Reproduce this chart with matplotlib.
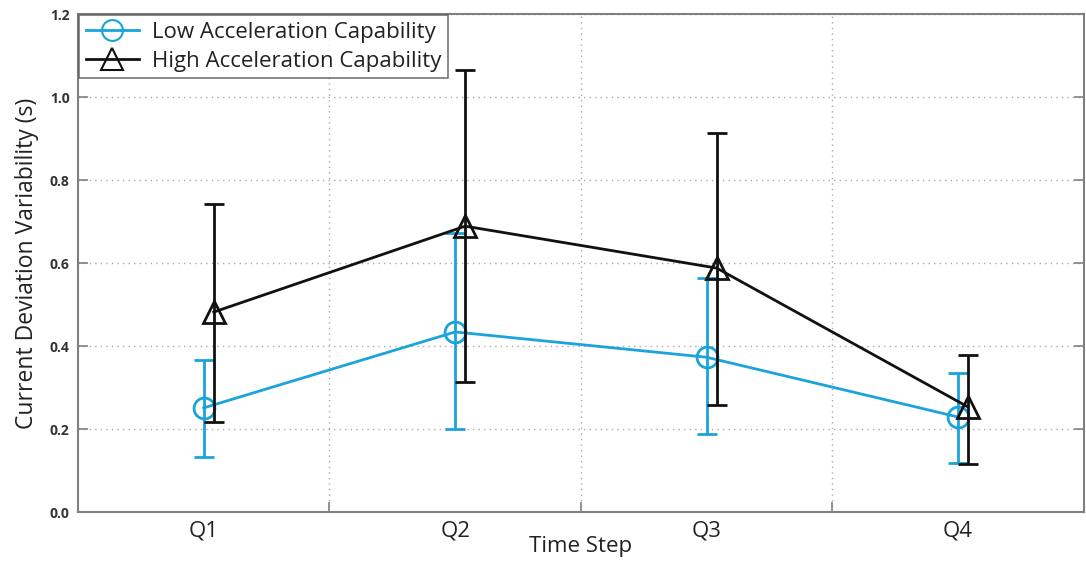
import matplotlib
matplotlib.use("Agg")
import matplotlib.pyplot as plt
from matplotlib.lines import Line2D
import numpy as np

categories = ["Q1", "Q2", "Q3", "Q4"]
low_mean = [0.251, 0.434, 0.373, 0.229]
low_err_lo = [0.133, 0.200, 0.188, 0.118]
low_err_hi = [0.366, 0.672, 0.563, 0.335]
high_mean = [0.482, 0.689, 0.588, 0.253]
high_err_lo = [0.217, 0.313, 0.258, 0.116]
high_err_hi = [0.742, 1.065, 0.913, 0.378]
yticks = [0.0, 0.2, 0.4, 0.6, 0.8, 1.0, 1.2]

plt.rcParams['font.family'] = ['Open Sans', 'DejaVu Sans']

blue = "#1ba3db"
fig = plt.figure(figsize=(10.86, 5.67), dpi=100)
ax = fig.add_axes([0.0718, 0.097, 0.9262, 0.878])

x = np.arange(1, len(categories) + 1)
off = 0.04
lm = np.array(low_mean); hm = np.array(high_mean)
low_yerr = [lm - np.array(low_err_lo), np.array(low_err_hi) - lm]
high_yerr = [hm - np.array(high_err_lo), np.array(high_err_hi) - hm]

ax.errorbar(x, lm, yerr=low_yerr, color=blue, lw=2, elinewidth=2, capsize=7, capthick=2,
            marker='o', markersize=15, markerfacecolor='none', markeredgewidth=2, zorder=3)
ax.errorbar(x + off, hm, yerr=high_yerr, color='#111111', lw=2, elinewidth=2, capsize=7, capthick=2,
            marker='^', markersize=16, markerfacecolor='none', markeredgewidth=2, zorder=4)

ax.set_xlim(0.5, 4.5)
ax.set_ylim(0, 1.2)
ax.set_xticks(x)
ax.set_xticklabels(categories, fontsize=16)
ax.set_xticks([1.5, 2.5, 3.5], minor=True)
ax.tick_params(axis='x', which='major', length=0, pad=6, colors='#222222')
ax.tick_params(axis='x', which='minor', direction='in', length=7, width=1.2, color='#808080')
ax.set_yticks(yticks)
ax.set_yticklabels([f"{v:.1f}" for v in yticks], fontsize=10, fontweight='bold')
ax.tick_params(axis='y', direction='in', length=7, width=1.2, color='#808080',
               right=True, labelcolor='#333333', pad=6)

ax.grid(True, axis='y', which='major', linestyle=(0, (1, 3)), color='#aaaaaa', lw=1)
ax.grid(True, axis='x', which='minor', linestyle=(0, (1, 3)), color='#aaaaaa', lw=1)

for s in ax.spines.values():
    s.set_color('#808080')
    s.set_linewidth(1.5)

ax.set_xlabel("Time Step", fontsize=16, labelpad=-4, color='#222222')
ax.set_ylabel("Current Deviation Variability (s)", fontsize=16.5, labelpad=8, color='#222222')

handles = [
    Line2D([], [], color=blue, lw=2, marker='o', markersize=15, markerfacecolor='none', markeredgewidth=1.5),
    Line2D([], [], color='#111111', lw=2, marker='^', markersize=16, markerfacecolor='none', markeredgewidth=1.5),
]
labels = ["Low Acceleration Capability", "High Acceleration Capability"]
leg = ax.legend(handles, labels, loc='upper left', fontsize=16, frameon=True, fancybox=False,
                borderaxespad=0.05, handlelength=2.4, borderpad=0.3, labelspacing=0.35,
                handletextpad=0.6)
leg.get_frame().set_edgecolor('#555555')
leg.get_frame().set_linewidth(1.2)
for t in leg.get_texts():
    t.set_color('#222222')

fig.savefig("out.png", dpi=100)
